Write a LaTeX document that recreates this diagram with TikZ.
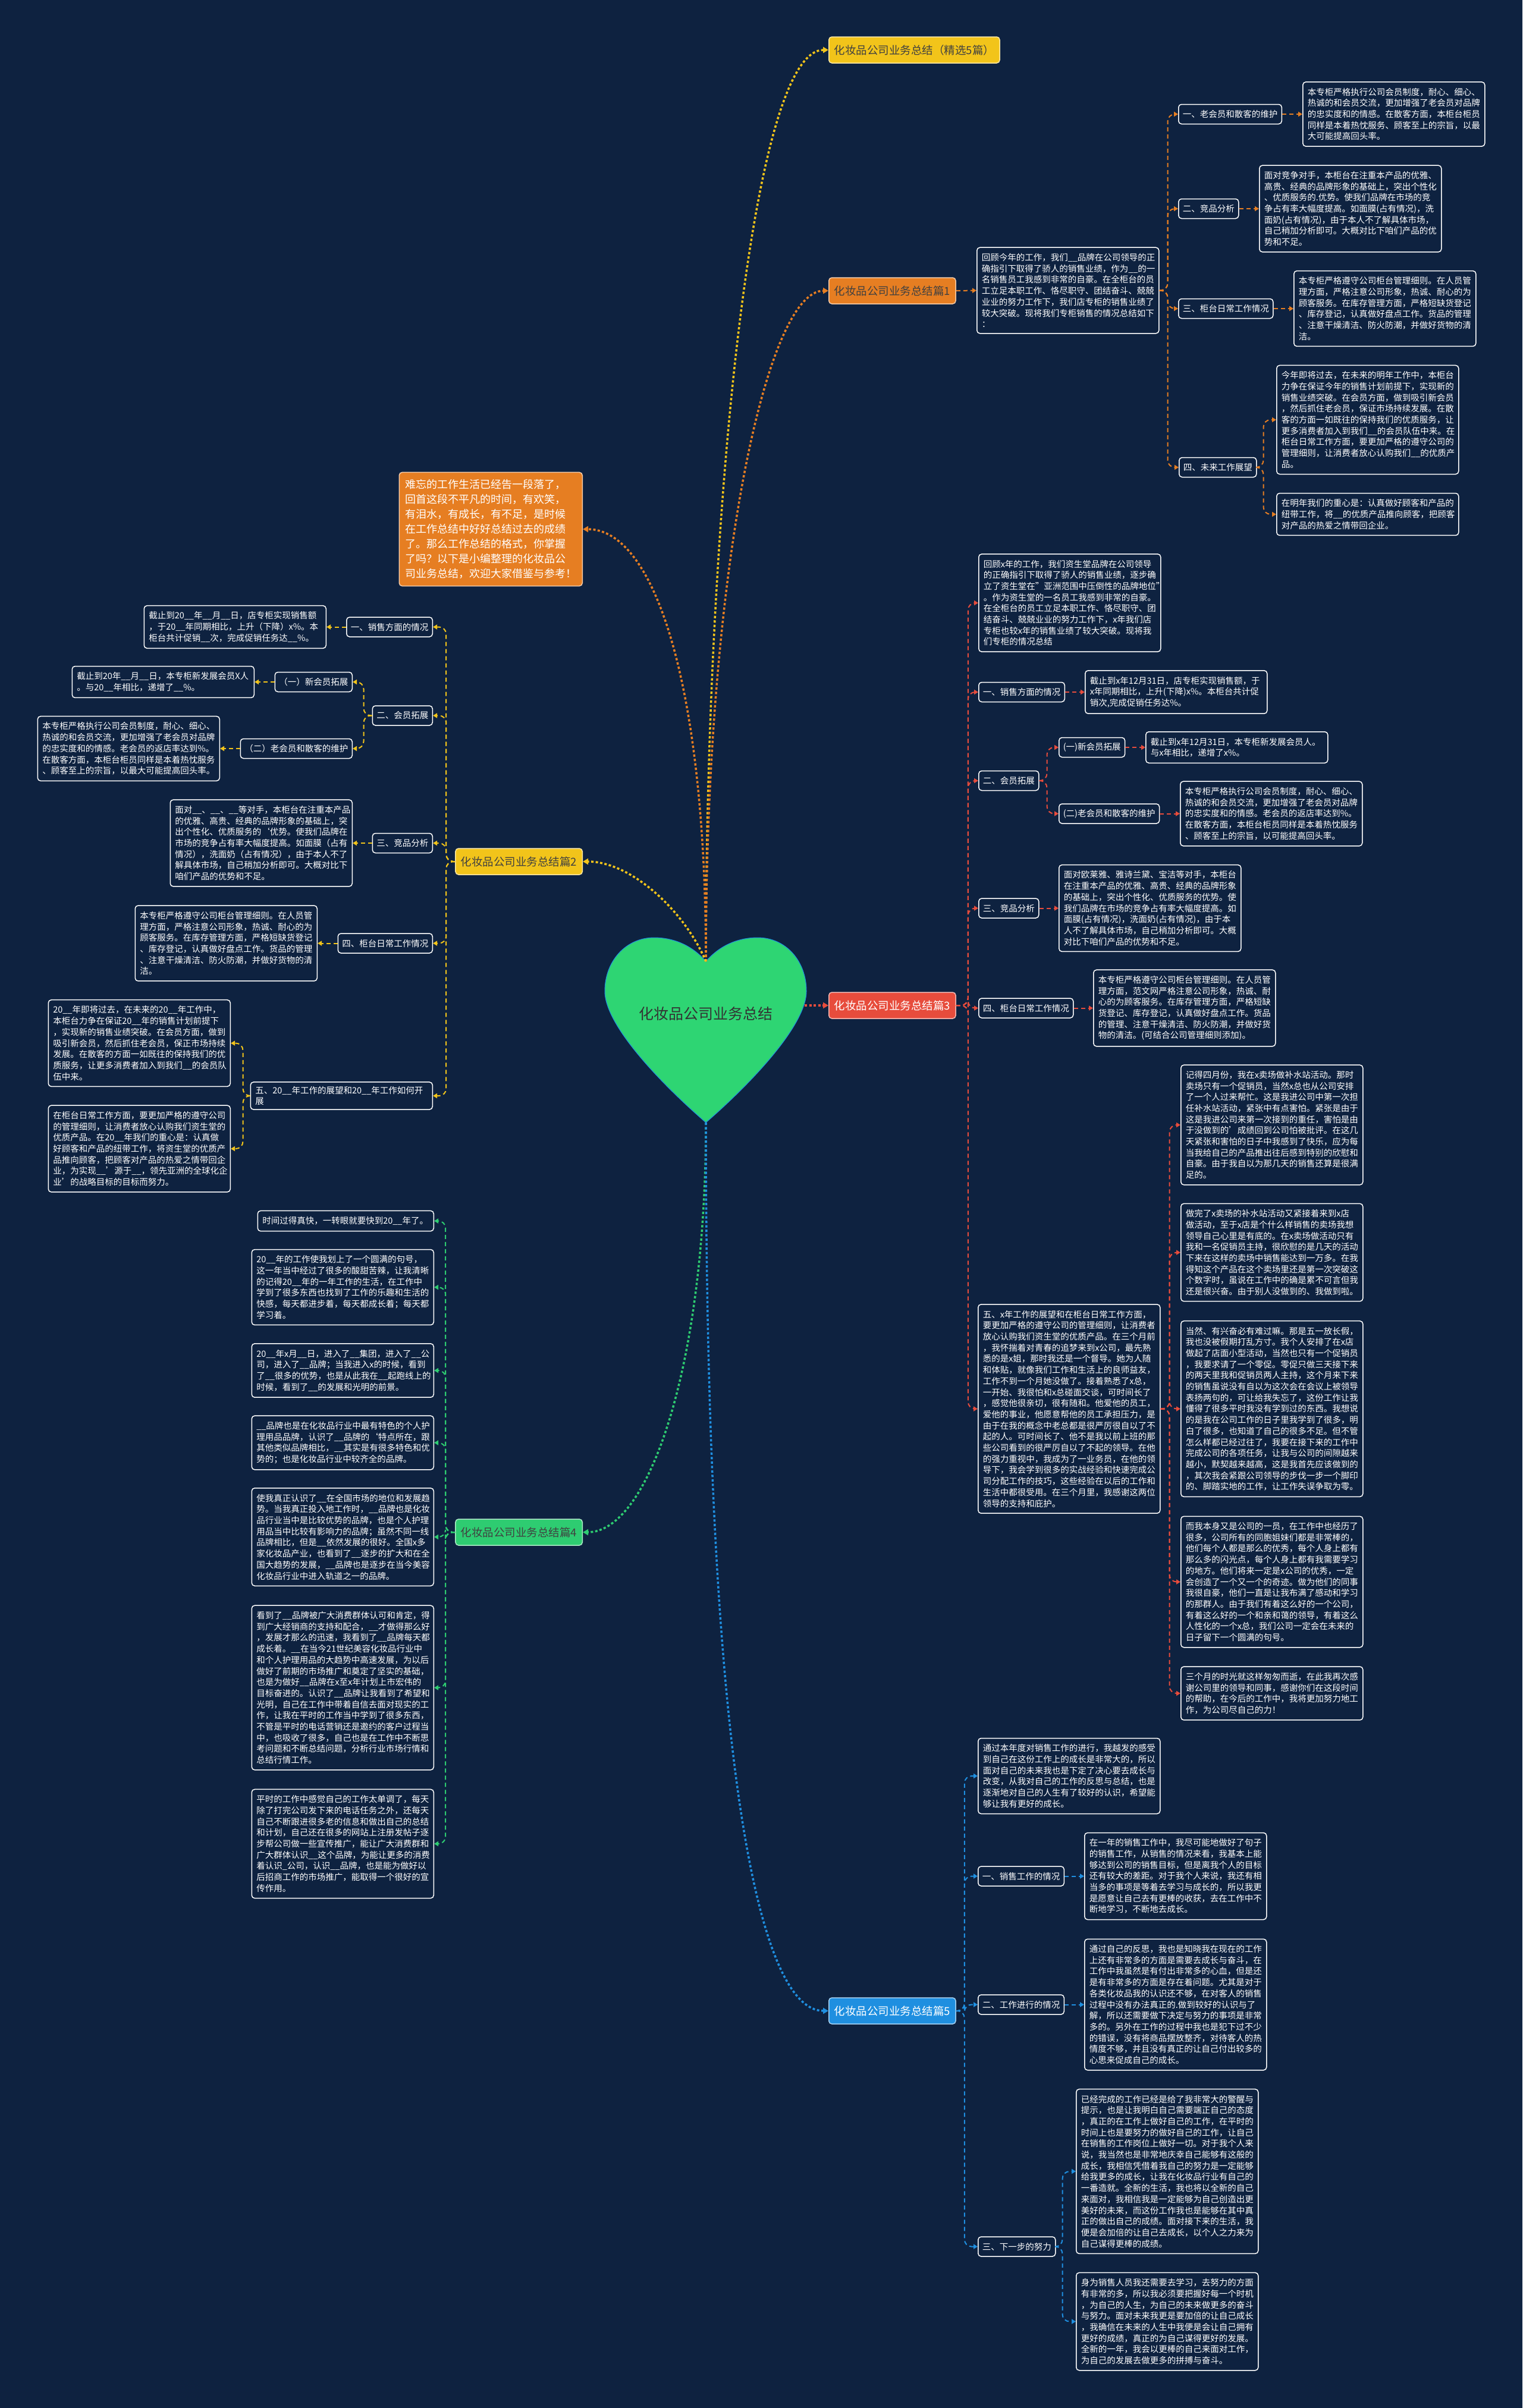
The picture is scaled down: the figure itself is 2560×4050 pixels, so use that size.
\documentclass[tikz,border=0pt]{standalone}
\usepackage{fontspec}
\setmainfont{Noto Sans CJK SC}
\usepackage{xcolor}
\usepackage{tikz}
\usetikzlibrary{arrows.meta}

\definecolor{bgnavy}{HTML}{0E2240}
\definecolor{mmyellow}{HTML}{F2C41A}
\definecolor{mmorange}{HTML}{E67E22}
\definecolor{mmred}{HTML}{E74C3C}
\definecolor{mmgreen}{HTML}{2ECC71}
\definecolor{mmheart}{HTML}{2ED573}
\definecolor{mmblue}{HTML}{1F8FE0}

\newcommand\leaffont{\fontsize{14.5pt}{18.7pt}\selectfont}
\newcommand\branchfont{\fontsize{18.5pt}{22pt}\selectfont}
\newcommand\introfont{\fontsize{18pt}{25pt}\selectfont}
\newcommand\rootfont{\fontsize{25pt}{30pt}\selectfont}

\tikzset{
  leaf/.style={draw=white, line width=1.5pt, rounded corners=5pt, fill=bgnavy,
    text=white, font=\leaffont, align=left, text width=290pt,
    inner xsep=8pt, inner ysep=10pt},
  headbox/.style={draw=white, line width=1.5pt, rounded corners=5pt, fill=bgnavy,
    text=white, font=\leaffont, inner xsep=7pt, inner ysep=4pt, minimum height=33pt},
  mainbox/.style={rounded corners=5pt, line width=1.5pt, font=\branchfont,
    inner xsep=9pt, minimum height=44pt},
  rootlink/.style={line width=3.5pt, dash pattern=on 4pt off 3.5pt,
    -{Triangle[length=9pt,width=10pt]}},
  sublink/.style={line width=2pt, dash pattern=on 7pt off 5pt, rounded corners=12pt,
    -{Triangle[length=7pt,width=8pt]}},
}

\begin{document}
\begin{tikzpicture}[x=1pt, y=-1pt]
    % page and background
    \useasboundingbox (0,0) rectangle (2560,4050);
    \fill[bgnavy] (0,0) rectangle (2560,4050);

    % Centre heart
    \filldraw[fill=mmheart, draw=mmblue, line width=1pt] (1187,1617)
        .. controls (1162,1588) and (1130,1577) .. (1100,1577)
        .. controls (1052,1577) and (1017,1617) .. (1017,1667)
        .. controls (1017,1727) and (1120,1830) .. (1187,1888)
        .. controls (1254,1830) and (1356,1727) .. (1356,1667)
        .. controls (1356,1617) and (1322,1577) .. (1274,1577)
        .. controls (1244,1577) and (1212,1588) .. (1187,1617) -- cycle;
    \node[font=\rootfont, text=black!80] (root) at (1187,1705) {化妆品公司业务总结};
    \coordinate (htop) at (1187,1617);
    \coordinate (hbot) at (1187,1888);
    \coordinate (hright) at (1353,1691);

    % Main branches
    \node[mainbox, fill=mmyellow, draw=white!60!mmyellow, text=black!75, anchor=west] (title) at (1393,84) {化妆品公司业务总结（精选5篇）};
    \node[mainbox, fill=mmorange, draw=white!60!mmorange, text=black!75, anchor=west] (p1) at (1393,489) {化妆品公司业务总结篇1};
    \node[mainbox, fill=mmred, draw=white!60!mmred, text=white, anchor=west] (p3) at (1393,1691) {化妆品公司业务总结篇3};
    \node[mainbox, fill=mmblue, draw=white!60!mmblue, text=white, anchor=west] (p5) at (1393,3382) {化妆品公司业务总结篇5};
    \node[mainbox, fill=mmyellow, draw=white!60!mmyellow, text=black!75, anchor=east] (p2) at (980,1449) {化妆品公司业务总结篇2};
    \node[mainbox, fill=mmgreen, draw=white!60!mmgreen, text=black!75, anchor=east] (p4) at (980,2577) {化妆品公司业务总结篇4};
    \node[rounded corners=5pt, fill=mmorange, draw=white!60!mmorange, line width=1.5pt, text=white,
        font=\introfont, align=left, text width=288pt, inner xsep=10pt, inner ysep=12pt, anchor=east] (intro) at (980,890)
        {难忘的工作生活已经告一段落了，\\回首这段不平凡的时间，有欢笑，\\有泪水，有成长，有不足，是时候\\在工作总结中好好总结过去的成绩\\了。那么工作总结的格式，你掌握\\了吗？以下是小编整理的化妆品公\\司业务总结，欢迎大家借鉴与参考！};

    % Part 1
    \node[leaf, anchor=west] (s1i) at (1642,488.5) {回顾今年的工作，我们\_\_品牌在公司领导的正\\确指引下取得了骄人的销售业绩，作为\_\_的一\\名销售员工我感到非常的自豪。在全柜台的员\\工立足本职工作、恪尽职守、团结奋斗、兢兢\\业业的努力工作下，我们店专柜的销售业绩了\\较大突破。现将我们专柜销售的情况总结如下\\：};
    \node[headbox, anchor=west] (s1a) at (1981,192) {一、老会员和散客的维护};
    \node[leaf, anchor=west] (s1a1) at (2190,192) {本专柜严格执行公司会员制度，耐心、细心、\\热诚的和会员交流，更加增强了老会员对品牌\\的忠实度和的情感。在散客方面，本柜台柜员\\同样是本着热忱服务、顾客至上的宗旨，以最\\大可能提高回头率。};
    \node[headbox, anchor=west] (s1b) at (1981,351) {二、竞品分析};
    \node[leaf, anchor=west] (s1b1) at (2117,351) {面对竞争对手，本柜台在注重本产品的优雅、\\高贵、经典的品牌形象的基础上，突出个性化\\、优质服务的.优势。使我们品牌在市场的竞\\争占有率大幅度提高。如面膜(占有情况)，洗\\面奶(占有情况)，由于本人不了解具体市场，\\自己稍加分析即可。大概对比下咱们产品的优\\势和不足。};
    \node[headbox, anchor=west] (s1c) at (1981,519) {三、柜台日常工作情况};
    \node[leaf, anchor=west] (s1c1) at (2175,519) {本专柜严格遵守公司柜台管理细则。在人员管\\理方面，严格注意公司形象，热诚、耐心的为\\顾客服务。在库存管理方面，严格短缺货登记\\、库存登记，认真做好盘点工作。货品的管理\\、注意干燥清洁、防火防潮，并做好货物的清\\洁。};
    \node[headbox, anchor=west] (s1d) at (1982,786) {四、未来工作展望};
    \node[leaf, anchor=west] (s1d1) at (2146,706) {今年即将过去，在未来的明年工作中，本柜台\\力争在保证今年的销售计划前提下，实现新的\\销售业绩突破。在会员方面，做到吸引新会员\\，然后抓住老会员，保证市场持续发展。在散\\客的方面一如既往的保持我们的优质服务，让\\更多消费者加入到我们\_\_的会员队伍中来。在\\柜台日常工作方面，要更加严格的遵守公司的\\管理细则，让消费者放心认购我们\_\_的优质产\\品。};
    \node[leaf, anchor=west] (s1d2) at (2146,865) {在明年我们的重心是：认真做好顾客和产品的\\纽带工作，将\_\_的优质产品推向顾客，把顾客\\对产品的热爱之情带回企业。};

    % Part 3
    \node[leaf, anchor=west] (s3i) at (1645,1014) {回顾x年的工作，我们资生堂品牌在公司领导\\的正确指引下取得了骄人的销售业绩，逐步确\\立了资生堂在"亚洲范围中压倒性的品牌地位"\\。作为资生堂的一名员工我感到非常的自豪。\\在全柜台的员工立足本职工作、恪尽职守、团\\结奋斗、兢兢业业的努力工作下，x年我们店\\专柜也较x年的销售业绩了较大突破。现将我\\们专柜的情况总结};
    \node[headbox, anchor=west] (s3a) at (1645,1164) {一、销售方面的情况};
    \node[leaf, anchor=west] (s3a1) at (1824,1164) {截止到x年12月31日，店专柜实现销售额，于\\x年同期相比，上升(下降)x\%。本柜台共计促\\销次,完成促销任务达\%。};
    \node[headbox, anchor=west] (s3b) at (1645,1313) {二、会员拓展};
    \node[headbox, anchor=west] (s3b1) at (1780,1257) {(一)新会员拓展};
    \node[leaf, anchor=west] (s3b1x) at (1926,1257) {截止到x年12月31日，本专柜新发展会员人。\\与x年相比，递增了x\%。};
    \node[headbox, anchor=west] (s3b2) at (1780,1368.5) {(二)老会员和散客的维护};
    \node[leaf, anchor=west] (s3b2x) at (1984,1368.5) {本专柜严格执行公司会员制度，耐心、细心、\\热诚的和会员交流，更加增强了老会员对品牌\\的忠实度和的情感。老会员的返店率达到\%。\\在散客方面，本柜台柜员同样是本着热忱服务\\、顾客至上的宗旨，以可能提高回头率。};
    \node[headbox, anchor=west] (s3c) at (1645,1527.5) {三、竞品分析};
    \node[leaf, anchor=west] (s3c1) at (1780,1527.5) {面对欧莱雅、雅诗兰黛、宝洁等对手，本柜台\\在注重本产品的优雅、高贵、经典的品牌形象\\的基础上，突出个性化、优质服务的优势。使\\我们品牌在市场的竞争占有率大幅度提高。如\\面膜(占有情况)，洗面奶(占有情况)，由于本\\人不了解具体市场，自己稍加分析即可。大概\\对比下咱们产品的优势和不足。};
    \node[headbox, anchor=west] (s3d) at (1645,1695.5) {四、柜台日常工作情况};
    \node[leaf, anchor=west] (s3d1) at (1838,1695.5) {本专柜严格遵守公司柜台管理细则。在人员管\\理方面，范文网严格注意公司形象，热诚、耐\\心的为顾客服务。在库存管理方面，严格短缺\\货登记、库存登记，认真做好盘点工作。货品\\的管理、注意干燥清洁、防火防潮，并做好货\\物的清洁。(可结合公司管理细则添加)。};
    \node[leaf, anchor=west] (s3e) at (1644,2369.5) {五、x年工作的展望和在柜台日常工作方面，\\要更加严格的遵守公司的管理细则，让消费者\\放心认购我们资生堂的优质产品。在三个月前\\，我怀揣着对青春的追梦来到x公司，最先熟\\悉的是x姐，那时我还是一个督导。她为人随\\和体贴，就像我们工作和生活上的良师益友，\\工作不到一个月她没做了。接着熟悉了x总，\\一开始、我很怕和x总碰面交谈，可时间长了\\，感觉他很亲切，很有随和。他爱他的员工，\\爱他的事业，他愿意帮他的员工承担压力，是\\由于在我的概念中老总都是很严厉很自以了不\\起的人。可时间长了、他不是我以前上班的那\\些公司看到的很严厉自以了不起的领导。在他\\的强力重视中，我成为了一业务员，在他的领\\导下，我会学到很多的实战经验和快速完成公\\司分配工作的技巧，这些经验在以后的工作和\\生活中都很受用。在三个月里，我感谢这两位\\领导的支持和庇护。};
    \node[leaf, anchor=west] (s3e1) at (1985,1892) {记得四月份，我在x卖场做补水站活动。那时\\卖场只有一个促销员，当然x总也从公司安排\\了一个人过来帮忙。这是我进公司中第一次担\\任补水站活动，紧张中有点害怕。紧张是由于\\这是我进公司来第一次接到的重任，害怕是由\\于没做到的'成绩回到公司怕被批评。在这几\\天紧张和害怕的日子中我感到了快乐，应为每\\当我给自己的产品推出往后感到特别的欣慰和\\自豪。由于我自以为那几天的销售还算是很满\\足的。};
    \node[leaf, anchor=west] (s3e2) at (1985,2106.5) {做完了x卖场的补水站活动又紧接着来到x店\\做活动，至于x店是个什么样销售的卖场我想\\领导自己心里是有底的。在x卖场做活动只有\\我和一名促销员主持，很欣慰的是几天的活动\\下来在这样的卖场中销售能达到一万多。在我\\得知这个产品在这个卖场里还是第一次突破这\\个数字时，虽说在工作中的确是累不可言但我\\还是很兴奋。由于别人没做到的、我做到啦。};
    \node[leaf, anchor=west] (s3e3) at (1985,2369.5) {当然、有兴奋必有难过嘛。那是五一放长假，\\我也没被假期打乱方寸。我个人安排了在x店\\做起了店面小型活动，当然也只有一个促销员\\，我要求请了一个零促。零促只做三天接下来\\的两天里我和促销员两人主持，这个月来下来\\的销售虽说没有自以为这次会在会议上被领导\\表扬两句的，可让给我失忘了，这份工作让我\\懂得了很多平时我没有学到过的东西。我想说\\的是我在公司工作的日子里我学到了很多，明\\白了很多，也知道了自己的很多不足。但不管\\怎么样都已经过往了，我要在接下来的工作中\\完成公司的各项任务，让我与公司的间隙越来\\越小，默契越来越高，这是我首先应该做到的\\，其次我会紧跟公司领导的步伐一步一个脚印\\的、脚踏实地的工作，让工作失误争取为零。};
    \node[leaf, anchor=west] (s3e4) at (1985,2660.5) {而我本身又是公司的一员，在工作中也经历了\\很多，公司所有的同胞姐妹们都是非常棒的，\\他们每个人都是那么的优秀，每个人身上都有\\那么多的闪光点，每个人身上都有我需要学习\\的地方。他们将来一定是x公司的优秀，一定\\会创造了一个又一个的奇迹。做为他们的同事\\我很自豪，他们一直是让我布满了感动和学习\\的那群人。由于我们有着这么好的一个公司，\\有着这么好的一个和亲和蔼的领导，有着这么\\人性化的一个x总，我们公司一定会在未来的\\日子留下一个圆满的句号。};
    \node[leaf, anchor=west] (s3e5) at (1985,2848) {三个月的时光就这样匆匆而逝，在此我再次感\\谢公司里的领导和同事，感谢你们在这段时间\\的帮助，在今后的工作中，我将更加努力地工\\作，为公司尽自己的力！};

    % Part 5
    \node[leaf, anchor=west] (s5i) at (1644,2987) {通过本年度对销售工作的进行，我越发的感受\\到自己在这份工作上的成长是非常大的，所以\\面对自己的未来我也是下定了决心要去成长与\\改变，从我对自己的工作的反思与总结，也是\\逐渐地对自己的人生有了较好的认识，希望能\\够让我有更好的成长。};
    \node[headbox, anchor=west] (s5a) at (1644,3155.5) {一、销售工作的情况};
    \node[leaf, anchor=west] (s5a1) at (1823,3155.5) {在一年的销售工作中，我尽可能地做好了句子\\的销售工作，从销售的情况来看，我基本上能\\够达到公司的销售目标，但是离我个人的目标\\还有较大的差距。对于我个人来说，我还有相\\当多的事项是等着去学习与成长的，所以我更\\是愿意让自己去有更棒的收获，去在工作中不\\断地学习，不断地去成长。};
    \node[headbox, anchor=west] (s5b) at (1644,3371.5) {二、工作进行的情况};
    \node[leaf, anchor=west] (s5b1) at (1823,3371.5) {通过自己的反思，我也是知晓我在现在的工作\\上还有非常多的方面是需要去成长与奋斗，在\\工作中我虽然是有付出非常多的心血，但是还\\是有非常多的方面是存在着问题。尤其是对于\\各类化妆品我的认识还不够，在对客人的销售\\过程中没有办法真正的.做到较好的认识与了\\解，所以还需要做下决定与努力的事项是非常\\多的。另外在工作的过程中我也是犯下过不少\\的错误，没有将商品摆放整齐，对待客人的热\\情度不够，并且没有真正的让自己付出较多的\\心思来促成自己的成长。};
    \node[headbox, anchor=west] (s5c) at (1644,3778.5) {三、下一步的努力};
    \node[leaf, anchor=west] (s5c1) at (1809,3652) {已经完成的工作已经是给了我非常大的警醒与\\提示，也是让我明白自己需要端正自己的态度\\，真正的在工作上做好自己的工作，在平时的\\时间上也是要努力的做好自己的工作，让自己\\在销售的工作岗位上做好一切。对于我个人来\\说，我当然也是非常地庆幸自己能够有这般的\\成长，我相信凭借着我自己的努力是一定能够\\给我更多的成长，让我在化妆品行业有自己的\\一番造就。全新的生活，我也将以全新的自己\\来面对，我相信我是一定能够为自己创造出更\\美好的未来，而这份工作我也是能够在其中真\\正的做出自己的成绩。面对接下来的生活，我\\便是会加倍的让自己去成长，以个人之力来为\\自己谋得更棒的成绩。};
    \node[leaf, anchor=west] (s5c2) at (1809,3904.5) {身为销售人员我还需要去学习，去努力的方面\\有非常的多，所以我必须要把握好每一个时机\\，为自己的人生，为自己的未来做更多的奋斗\\与努力。面对未来我更是要加倍的让自己成长\\，我确信在未来的人生中我便是会让自己拥有\\更好的成绩，真正的为自己谋得更好的发展。\\全新的一年，我会以更棒的自己来面对工作，\\为自己的发展去做更多的拼搏与奋斗。};

    % Part 2 (left)
    \node[headbox, anchor=east] (s2a) at (728,1054.5) {一、销售方面的情况};
    \node[leaf, anchor=east] (s2a1) at (549,1054.5) {截止到20\_\_年\_\_月\_\_日，店专柜实现销售额\\，于20\_\_年同期相比，上升（下降）x\%。本\\柜台共计促销\_\_次，完成促销任务达\_\_\%。};
    \node[headbox, anchor=east] (s2b) at (728,1203.5) {二、会员拓展};
    \node[headbox, anchor=east] (s2b1) at (593,1147) {（一）新会员拓展};
    \node[leaf, anchor=east] (s2b1x) at (428,1147) {截止到20年\_\_月\_\_日，本专柜新发展会员X人\\。与20\_\_年相比，递增了\_\_\%。};
    \node[headbox, anchor=east] (s2b2) at (593,1259) {（二）老会员和散客的维护};
    \node[leaf, anchor=east] (s2b2x) at (370,1259) {本专柜严格执行公司会员制度，耐心、细心、\\热诚的和会员交流，更加增强了老会员对品牌\\的忠实度和的情感。老会员的返店率达到\%。\\在散客方面，本柜台柜员同样是本着热忱服务\\、顾客至上的宗旨，以最大可能提高回头率。};
    \node[headbox, anchor=east] (s2c) at (728,1418) {三、竞品分析};
    \node[leaf, anchor=east] (s2c1) at (593,1418) {面对\_\_、\_\_、\_\_等对手，本柜台在注重本产品\\的优雅、高贵、经典的品牌形象的基础上，突\\出个性化、优质服务的`优势。使我们品牌在\\市场的竞争占有率大幅度提高。如面膜（占有\\情况），洗面奶（占有情况），由于本人不了\\解具体市场，自己稍加分析即可。大概对比下\\咱们产品的优势和不足。};
    \node[headbox, anchor=east] (s2d) at (728,1586.5) {四、柜台日常工作情况};
    \node[leaf, anchor=east] (s2d1) at (534,1586.5) {本专柜严格遵守公司柜台管理细则。在人员管\\理方面，严格注意公司形象，热诚、耐心的为\\顾客服务。在库存管理方面，严格短缺货登记\\、库存登记，认真做好盘点工作。货品的管理\\、注意干燥清洁、防火防潮，并做好货物的清\\洁。};
    \node[leaf, anchor=east, inner ysep=7pt] (s2e) at (728,1843) {五、20\_\_年工作的展望和20\_\_年工作如何开\\展};
    \node[leaf, anchor=east] (s2e1) at (388,1754.5) {20\_\_年即将过去，在未来的20\_\_年工作中，\\本柜台力争在保证20\_\_年的销售计划前提下\\，实现新的销售业绩突破。在会员方面，做到\\吸引新会员，然后抓住老会员，保正市场持续\\发展。在散客的方面一如既往的保持我们的优\\质服务，让更多消费者加入到我们\_\_的会员队\\伍中来。};
    \node[leaf, anchor=east] (s2e2) at (388,1932) {在柜台日常工作方面，要更加严格的遵守公司\\的管理细则，让消费者放心认购我们资生堂的\\优质产品。在20\_\_年我们的重心是：认真做\\好顾客和产品的纽带工作，将资生堂的优质产\\品推向顾客，把顾客对产品的热爱之情带回企\\业，为实现\_\_'源于\_\_，领先亚洲的全球化企\\业'的战略目标的目标而努力。};

    % Part 4 (left)
    \node[leaf, anchor=east, text width=280pt] (s4a) at (730,2053.5) {时间过得真快，一转眼就要快到20\_\_年了。};
    \node[leaf, anchor=east] (s4b) at (730,2165) {20\_\_年的工作使我划上了一个圆满的句号，\\这一年当中经过了很多的酸甜苦辣，让我清晰\\的记得20\_\_年的一年工作的生活，在工作中\\学到了很多东西也找到了工作的乐趣和生活的\\快感，每天都进步着，每天都成长着；每天都\\学习着。};
    \node[leaf, anchor=east] (s4c) at (730,2305) {20\_\_年x月\_\_日，进入了\_\_集团，进入了\_\_公\\司，进入了\_\_品牌；当我进入x的时候，看到\\了\_\_很多的优势，也是从此我在\_\_起跑线上的\\时候，看到了\_\_的发展和光明的前景。};
    \node[leaf, anchor=east] (s4d) at (730,2426.5) {\_\_品牌也是在化妆品行业中最有特色的个人护\\理用品品牌，认识了\_\_品牌的`特点所在，跟\\其他类似品牌相比，\_\_其实是有很多特色和优\\势的；也是化妆品行业中较齐全的品牌。};
    \node[leaf, anchor=east] (s4e) at (730,2585) {使我真正认识了\_\_在全国市场的地位和发展趋\\势。当我真正投入地工作时，\_\_品牌也是化妆\\品行业当中是比较优势的品牌，也是个人护理\\用品当中比较有影响力的品牌；虽然不同一线\\品牌相比，但是\_\_依然发展的很好。全国x多\\家化妆品产业，也看到了\_\_逐步的扩大和在全\\国大趋势的发展，\_\_品牌也是逐步在当今美容\\化妆品行业中进入轨道之一的品牌。};
    \node[leaf, anchor=east] (s4f) at (730,2838.5) {看到了\_\_品牌被广大消费群体认可和肯定，得\\到广大经销商的支持和配合，\_\_才做得那么好\\，发展才那么的迅速，我看到了\_\_品牌每天都\\成长着。\_\_在当今21世纪美容化妆品行业中\\和个人护理用品的大趋势中高速发展，为以后\\做好了前期的市场推广和奠定了坚实的基础，\\也是为做好\_\_品牌在x至x年计划上市宏伟的\\目标奋进的。认识了\_\_品牌让我看到了希望和\\光明，自己在工作中带着自信去面对现实的工\\作，让我在平时的工作当中学到了很多东西，\\不管是平时的电话营销还是邀约的客户过程当\\中，也吸收了很多，自己也是在工作中不断思\\考问题和不断总结问题，分析行业市场行情和\\总结行情工作。};
    \node[leaf, anchor=east] (s4g) at (730,3101) {平时的工作中感觉自己的工作太单调了，每天\\除了打完公司发下来的电话任务之外，还每天\\自己不断跟进很多老的信息和做出自己的总结\\和计划，自己还在很多的网站上注册发帖子逐\\步帮公司做一些宣传推广，能让广大消费群和\\广大群体认识\_\_这个品牌，为能让更多的消费\\着认识\_公司，认识\_\_品牌，也是能为做好以\\后招商工作的市场推广，能取得一个很好的宣\\传作用。};

    % Connectors from the heart
    \draw[rootlink, mmyellow] (htop) .. controls (1187,900) and (1260,84) .. (title.west);
    \draw[rootlink, mmorange] (htop) .. controls (1187,950) and (1290,489) .. (p1.west);
    \draw[rootlink, mmorange] (htop) .. controls (1187,1150) and (1100,890) .. (intro.east);
    \draw[rootlink, mmyellow] (htop) .. controls (1150,1530) and (1060,1449) .. (p2.east);
    \draw[rootlink, mmred] (hright) -- (p3.west);
    \draw[rootlink, mmgreen] (hbot) .. controls (1187,2300) and (1090,2577) .. (p4.east);
    \draw[rootlink, mmblue] (hbot) .. controls (1187,3000) and (1280,3382) .. (p5.west);

    % Part 1 links
    \draw[sublink, mmorange] (p1.east) -- (s1i.west);
    \foreach \c in {s1a,s1b,s1c,s1d}
        \draw[sublink, mmorange] (s1i.east) -- ++(14,0) |- (\c.west);
    \foreach \a/\b in {s1a/s1a1, s1b/s1b1, s1c/s1c1}
        \draw[sublink, mmorange] (\a.east) -- (\b.west);
    \foreach \c in {s1d1,s1d2}
        \draw[sublink, mmorange] (s1d.east) -- ++(11,0) |- (\c.west);

    % Part 3 links
    \foreach \c in {s3i,s3a,s3b,s3c,s3d,s3e}
        \draw[sublink, mmred] (p3.east) -- ++(20,0) |- (\c.west);
    \foreach \a/\b in {s3a/s3a1, s3b1/s3b1x, s3b2/s3b2x, s3c/s3c1, s3d/s3d1}
        \draw[sublink, mmred] (\a.east) -- (\b.west);
    \foreach \c in {s3b1,s3b2}
        \draw[sublink, mmred] (s3b.east) -- ++(13,0) |- (\c.west);
    \foreach \c in {s3e1,s3e2,s3e3,s3e4,s3e5}
        \draw[sublink, mmred] (s3e.east) -- ++(15,0) |- (\c.west);

    % Part 5 links
    \foreach \c in {s5i,s5a,s5b,s5c}
        \draw[sublink, mmblue] (p5.east) -- ++(14,0) |- (\c.west);
    \foreach \a/\b in {s5a/s5a1, s5b/s5b1}
        \draw[sublink, mmblue] (\a.east) -- (\b.west);
    \foreach \c in {s5c1,s5c2}
        \draw[sublink, mmblue] (s5c.east) -- ++(11,0) |- (\c.west);

    % Part 2 links
    \foreach \c in {s2a,s2b,s2c,s2d,s2e}
        \draw[sublink, mmyellow] (p2.west) -- ++(-15,0) |- (\c.east);
    \foreach \a/\b in {s2a/s2a1, s2b1/s2b1x, s2b2/s2b2x, s2c/s2c1, s2d/s2d1}
        \draw[sublink, mmyellow] (\a.west) -- (\b.east);
    \foreach \c in {s2b1,s2b2}
        \draw[sublink, mmyellow] (s2b.west) -- ++(-14,0) |- (\c.east);
    \foreach \c in {s2e1,s2e2}
        \draw[sublink, mmyellow] (s2e.west) -- ++(-12,0) |- (\c.east);

    % Part 4 links
    \foreach \c in {s4a,s4b,s4c,s4d,s4e,s4f,s4g}
        \draw[sublink, mmgreen] (p4.west) -- ++(-16,0) |- (\c.east);
\end{tikzpicture}
\end{document}
